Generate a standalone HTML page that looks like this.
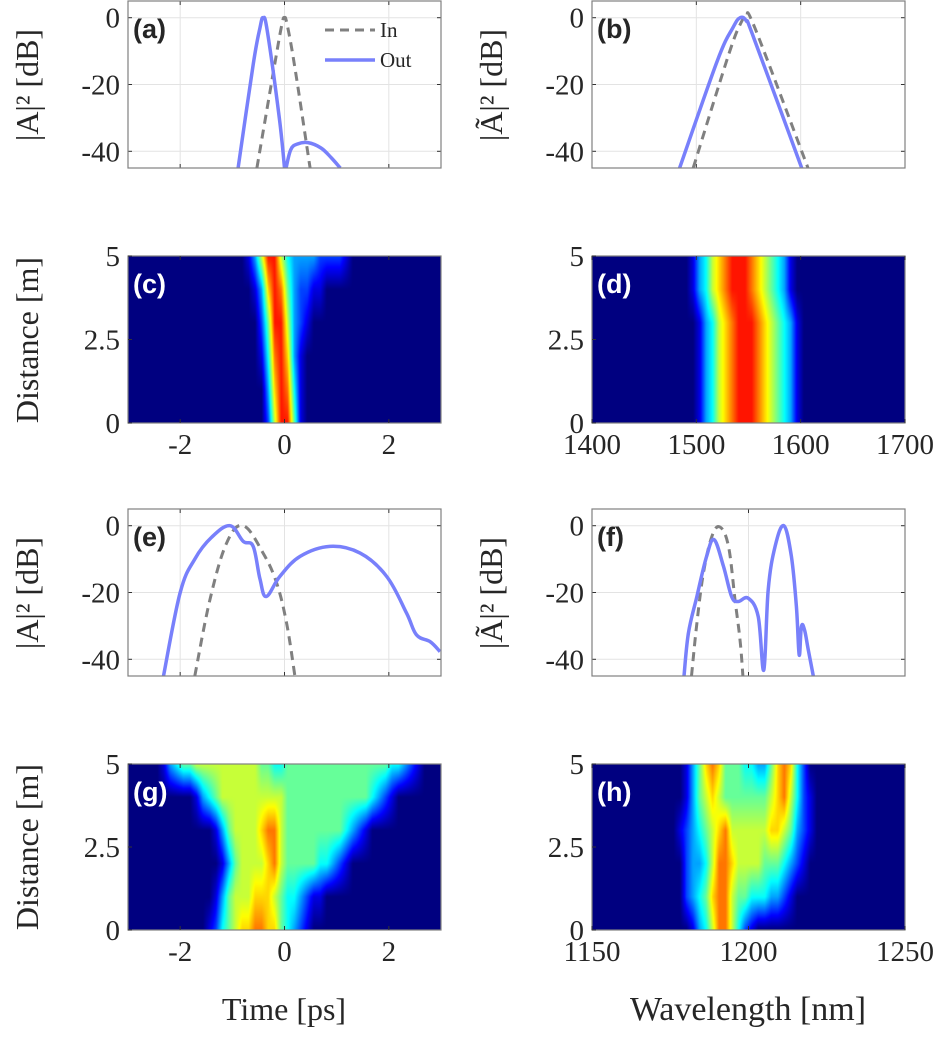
<!DOCTYPE html>
<html><head><meta charset="utf-8">
<style>
body{margin:0;background:#fff;}
svg text{font-family:"Liberation Serif",serif;fill:#262626;}
.tk{font-size:29px;}
.pl{font-family:"Liberation Sans",sans-serif !important;font-weight:bold;font-size:27px;}
</style></head>
<body>
<div style="position:relative;width:945px;height:1044px;">
<canvas id="cv" width="945" height="1044" style="position:absolute;left:0;top:0"></canvas>
<svg id="sv" width="945" height="1044" style="position:absolute;left:0;top:0" xmlns="http://www.w3.org/2000/svg"></svg>
</div>
<script>
// ---- data ----
const aInT=[-0.53,-0.2,-0.05,0,0.05,0.2,0.49];
const aInDb=[-45,-15,-2,0,-2,-15,-45];
const aOutT=[-0.89,-0.6,-0.47,-0.41,-0.33,-0.1,0,null,0.03,0.12,0.25,0.45,0.7,0.9,1.07];
const aOutDb=[-45,-14,-3,0,-4,-30,-45,null,-45,-39.5,-37.8,-37.4,-39,-42,-45];
const bInL=[1497,1530,1542,1548,1556,1607];
const bInDb=[-45,-12,-2,0,-3,-45];
const bOutL=[1484,1520,1535,1542,1548,1555,1601];
const bOutDb=[-45,-13,-3,0,-1,-6,-45];
const eInT=[-1.72,-1.43,-1.11,-0.79,-0.41,-0.15,0.04,0.2];
const eInDb=[-45,-22.2,-5.2,0,-8.2,-17.2,-29.2,-45];
const eOutT=[-2.32,-2.0,-1.72,-1.4,-1.045,-0.79,-0.6,-0.47,-0.35,-0.09,0.3,0.87,1.45,1.96,2.34,2.53,2.79,2.98];
const eOutDb=[-45,-20,-10,-3.5,0,-4.7,-6.2,-16,-21.2,-15.2,-9.2,-6.2,-8.2,-15.2,-26.2,-32.7,-34.7,-37.7];
const fInL=[1181.8,1183.5,1185.6,1188.3,1190.9,1193.6,1195.7,1197.3,1198.2];
const fInDb=[-45,-29.2,-14.2,-3.2,-0.4,-6.2,-22.2,-34.2,-45];
const fOutL=[1179.4,1180.8,1183.5,1186.6,1189,1192,1194.6,1196.7,1199.9,1203.1,1204.9,1206.3,1208.5,1211.3,1213.7,1215.3,1216.2,1216.9,1217.9,1219.1,1220.7];
const fOutDb=[-45,-32.2,-21.2,-9.2,-4.2,-12.2,-21.2,-22.7,-21.7,-27.2,-43.2,-19.2,-6.2,0,-9.2,-24.2,-38.7,-30.2,-31.2,-37.2,-45];
const dbTicks=[0,-20,-40];
const zTicks=[5,2.5,0];
const zTickLabels=["5","2.5","0"];
const tTicks=[-2,0,2];
const lamTicksD=[1400,1500,1600,1700];
const lamTicksH=[1150,1200,1250];
const zRows=[5,4,3,2,1,0];
// heatmap rows (top z=5 to bottom z=0), 48 columns, digits 0-9
const hmC=[
"000000000000000000136996433332222100000000000000",
"000000000000000000013798532211000000000000000000",
"000000000000000000002599632100000000000000000000",
"000000000000000000001489731000000000000000000000",
"000000000000000000000379841000000000000000000000",
"000000000000000000000269951000000000000000000000"];
const hmD=[
"000000000000000134678999876543100000000000000000",
"000000000000000134678999876543100000000000000000",
"000000000000000013467899987654310000000000000000",
"000000000000000013467899987654310000000000000000",
"000000000000000013467899987654310000000000000000",
"000000000000000013467899987654310000000000000000"];
const hmG=[
"000001345566666666665544555555555555555544321000",
"000000000013456666666666555555555555543210000000",
"000000000000013566667886555555555432100000000000",
"000000000000001356666786555554432100000000000000",
"000000000000013566677765443211000000000000000000",
"000000000000124567788775432100000000000000000000"];
const hmH=[
"000000000000001357875554433578742000000000000000",
"000000000000001356765555555678642100000000000000",
"000000000000012345678666666776532100000000000000",
"000000000000002334688766665554321000000000000000",
"000000000000002345788655444332100000000000000000",
"000000000000000134688642100000000000000000000000"];

// ---- layout ----
const NS="http://www.w3.org/2000/svg";
const sv=document.getElementById('sv');
const cx=document.getElementById('cv').getContext('2d');
const L={x0:128,x1:441}, R={x0:592,x1:905};
const rows=[{y0:1,y1:168},{y0:256,y1:423},{y0:509,y1:676},{y0:764,y1:930}];
function el(tag,attrs,parent){const e=document.createElementNS(NS,tag);for(const k in attrs)e.setAttribute(k,attrs[k]);(parent||sv).appendChild(e);return e;}
function scale(d0,d1,p0,p1){return v=>p0+(v-d0)/(d1-d0)*(p1-p0);}
function jet(v){v=Math.max(0,Math.min(1,v));
 const r=Math.max(0,Math.min(1,Math.min(4*v-1.5,-4*v+4.5)));
 const g=Math.max(0,Math.min(1,Math.min(4*v-0.5,-4*v+3.5)));
 const b=Math.max(0,Math.min(1,Math.min(4*v+0.5,-4*v+2.5)));
 return [r*255,g*255,b*255];}
function smoothPath(pts){
 if(pts.length<3)return pts.map((p,i)=>(i?'L':'M')+p[0].toFixed(1)+','+p[1].toFixed(1)).join('');
 let d='M'+pts[0][0].toFixed(1)+','+pts[0][1].toFixed(1);
 for(let i=0;i<pts.length-1;i++){
  const p0=pts[Math.max(0,i-1)],p1=pts[i],p2=pts[i+1],p3=pts[Math.min(pts.length-1,i+2)];
  const t=0.18;
  const c1=[p1[0]+(p2[0]-p0[0])*t,p1[1]+(p2[1]-p0[1])*t];
  const c2=[p2[0]-(p3[0]-p1[0])*t,p2[1]-(p3[1]-p1[1])*t];
  d+='C'+c1[0].toFixed(1)+','+c1[1].toFixed(1)+' '+c2[0].toFixed(1)+','+c2[1].toFixed(1)+' '+p2[0].toFixed(1)+','+p2[1].toFixed(1);}
 return d;}

function linePanel(col,row,xd0,xd1,name,label,xTicks,series){
 const P=col===0?L:R, r=rows[row];
 const xs=scale(xd0,xd1,P.x0,P.x1), ys=scale(-45,5,r.y1,r.y0);
 const g=el('g',{});
 
 el('rect',{x:P.x0,y:r.y0,width:P.x1-P.x0,height:r.y1-r.y0,fill:'#fff'},g);
 xTicks.forEach(t=>{const gl=el('line',{x1:xs(t),x2:xs(t),y1:r.y0,y2:r.y1,stroke:'#e3e3e3','stroke-width':1},g);
  });
 dbTicks.forEach(t=>{const gl=el('line',{x1:P.x0,x2:P.x1,y1:ys(t),y2:ys(t),stroke:'#e3e3e3','stroke-width':1},g);
  
  el('line',{x1:P.x0,x2:P.x0+4,y1:ys(t),y2:ys(t),stroke:'#333'},g);el('line',{x1:P.x1,x2:P.x1-4,y1:ys(t),y2:ys(t),stroke:'#333'},g);
  const tl=el('text',{x:P.x0-8,y:ys(t)+10,'text-anchor':'end',class:'tk'},g);tl.textContent=String(t);
  });
 xTicks.forEach(t=>{el('line',{x1:xs(t),x2:xs(t),y1:r.y1,y2:r.y1-4,stroke:'#333'},g);el('line',{x1:xs(t),x2:xs(t),y1:r.y0,y2:r.y0+4,stroke:'#333'},g);});
 const cid='clip'+name;const cp=el('clipPath',{id:cid},g);el('rect',{x:P.x0,y:r.y0,width:P.x1-P.x0,height:r.y1-r.y0},cp);
 series.forEach(s=>{let d='',seg=[];
  const flush=()=>{if(seg.length)d+=smoothPath(seg);seg=[];};
  for(let i=0;i<s.x.length;i++){if(s.x[i]===null){flush();continue;}seg.push([xs(s.x[i]),ys(s.y[i])]);}
  flush();
  const p=el('path',{d:d,fill:'none',stroke:s.c,'stroke-width':s.w,'stroke-dasharray':s.dash||'','stroke-linejoin':'round','clip-path':'url(#'+cid+')'},g);
  });
 el('rect',{x:P.x0,y:r.y0,width:P.x1-P.x0,height:r.y1-r.y0,fill:'none',stroke:'#808080','stroke-width':1.2},g);
 const pl=el('text',{x:P.x0+5,y:r.y0+37,class:'pl',fill:'#000'},g);pl.textContent=label;
 
 return {xs,ys,g};
}
function heatPanel(col,row,xd0,xd1,name,label,xTicks,xTickLabels,data){
 const P=col===0?L:R, r=rows[row];
 const xs=scale(xd0,xd1,P.x0,P.x1), zs=scale(0,5,r.y1,r.y0);
 const nC=data[0].length, dx=(xd1-xd0)/nC;
 const W=P.x1-P.x0,H=r.y1-r.y0;const img=cx.createImageData(W,H);
 for(let py=0;py<H;py++){
  const z=5-(py+0.5)/H*5;
  let ri=(zRows[0]-z)/(zRows[0]-zRows[1]);ri=Math.max(0,Math.min(zRows.length-1,ri));
  const r0=Math.floor(ri),r1=Math.min(zRows.length-1,r0+1),fr=ri-r0;
  for(let px=0;px<W;px++){
   const xv=xd0+(px+0.5)/W*(xd1-xd0);
   let ci=(xv-xd0)/dx-0.5;ci=Math.max(0,Math.min(nC-1,ci));
   const c0=Math.floor(ci),c1=Math.min(nC-1,c0+1),fc=ci-c0;
   const v=k=>(+data[k][c0])*(1-fc)+(+data[k][c1])*fc;
   const val=(v(r0)*(1-fr)+v(r1)*fr);
   const [R_,G_,B_]=jet(val*0.095);const o=(py*W+px)*4;
   img.data[o]=R_;img.data[o+1]=G_;img.data[o+2]=B_;img.data[o+3]=255;}}
 cx.putImageData(img,P.x0,r.y0);
 const g=el('g',{});
 
 el('rect',{x:P.x0,y:r.y0,width:W,height:H,fill:'none',stroke:'#808080','stroke-width':1.2},g);
 zTicks.forEach((t,i)=>{el('line',{x1:P.x0,x2:P.x0+4,y1:zs(t),y2:zs(t),stroke:'#333'},g);
  const tl=el('text',{x:P.x0-8,y:zs(t)+10,'text-anchor':'end',class:'tk'},g);tl.textContent=zTickLabels[i];
  });
 xTicks.forEach((t,i)=>{el('line',{x1:xs(t),x2:xs(t),y1:r.y1,y2:r.y1-4,stroke:'#333'},g);el('line',{x1:xs(t),x2:xs(t),y1:r.y0,y2:r.y0+4,stroke:'#333'},g);
  const tl=el('text',{x:xs(t),y:r.y1+31,'text-anchor':'middle',class:'tk'},g);tl.textContent=xTickLabels[i];
  });
 const pl=el('text',{x:P.x0+5,y:r.y0+37,class:'pl',fill:'#fff'},g);pl.textContent=label;pl.style.fill='#fff';
 
}
const blue='#7880fb',gray='#808080';
linePanel(0,0,-3,3,'panel-a','(a)',tTicks,[{x:aInT,y:aInDb,c:gray,w:3,dash:'9,6',name:'in-line'},{x:aOutT,y:aOutDb,c:blue,w:3.5,name:'out-line'}]);
linePanel(1,0,1400,1700,'panel-b','(b)',[1500,1600],[{x:bInL,y:bInDb,c:gray,w:3,dash:'9,6',name:'in-line'},{x:bOutL,y:bOutDb,c:blue,w:3.5,name:'out-line'}]);
linePanel(0,2,-3,3,'panel-e','(e)',tTicks,[{x:eInT,y:eInDb,c:gray,w:3,dash:'9,6',name:'in-line'},{x:eOutT,y:eOutDb,c:blue,w:3.5,name:'out-line'}]);
linePanel(1,2,1150,1250,'panel-f','(f)',[1200],[{x:fInL,y:fInDb,c:gray,w:3,dash:'9,6',name:'in-line'},{x:fOutL,y:fOutDb,c:blue,w:3.5,name:'out-line'}]);
heatPanel(0,1,-3,3,'panel-c','(c)',tTicks,["-2","0","2"],hmC);
heatPanel(1,1,1400,1700,'panel-d','(d)',lamTicksD,["1400","1500","1600","1700"],hmD);
heatPanel(0,3,-3,3,'panel-g','(g)',tTicks,["-2","0","2"],hmG);
heatPanel(1,3,1150,1250,'panel-h','(h)',lamTicksH,["1150","1200","1250"],hmH);
// legend
const lg=el('g',{});

el('line',{x1:325,x2:375,y1:30,y2:30,stroke:gray,'stroke-width':3,'stroke-dasharray':'9,6'},lg);
el('line',{x1:325,x2:375,y1:60,y2:60,stroke:blue,'stroke-width':3.5},lg);
let t1=el('text',{x:380,y:37,style:'font-size:21px'},lg);t1.textContent='In';
let t2=el('text',{x:380,y:67,style:'font-size:21px'},lg);t2.textContent='Out';
// axis titles
function ytitle(x,y,txt,name){const t=el('text',{x:0,y:0,transform:`translate(${x},${y}) rotate(-90)`,'text-anchor':'middle',style:'font-size:32px'});t.textContent=txt;
 }
ytitle(38,85,'|A|² [dB]','y-axis-title-a');
ytitle(502,85,'|Ã|² [dB]','y-axis-title-b');
ytitle(38,340,'Distance [m]','y-axis-title-c');
ytitle(38,593,'|A|² [dB]','y-axis-title-e');
ytitle(502,593,'|Ã|² [dB]','y-axis-title-f');
ytitle(38,847,'Distance [m]','y-axis-title-g');
let xt=el('text',{x:284,y:1020,'text-anchor':'middle',style:'font-size:32px'});xt.textContent='Time [ps]';

let xw=el('text',{x:748,y:1020,'text-anchor':'middle',style:'font-size:34px'});xw.textContent='Wavelength [nm]';

</script>
</body></html>
